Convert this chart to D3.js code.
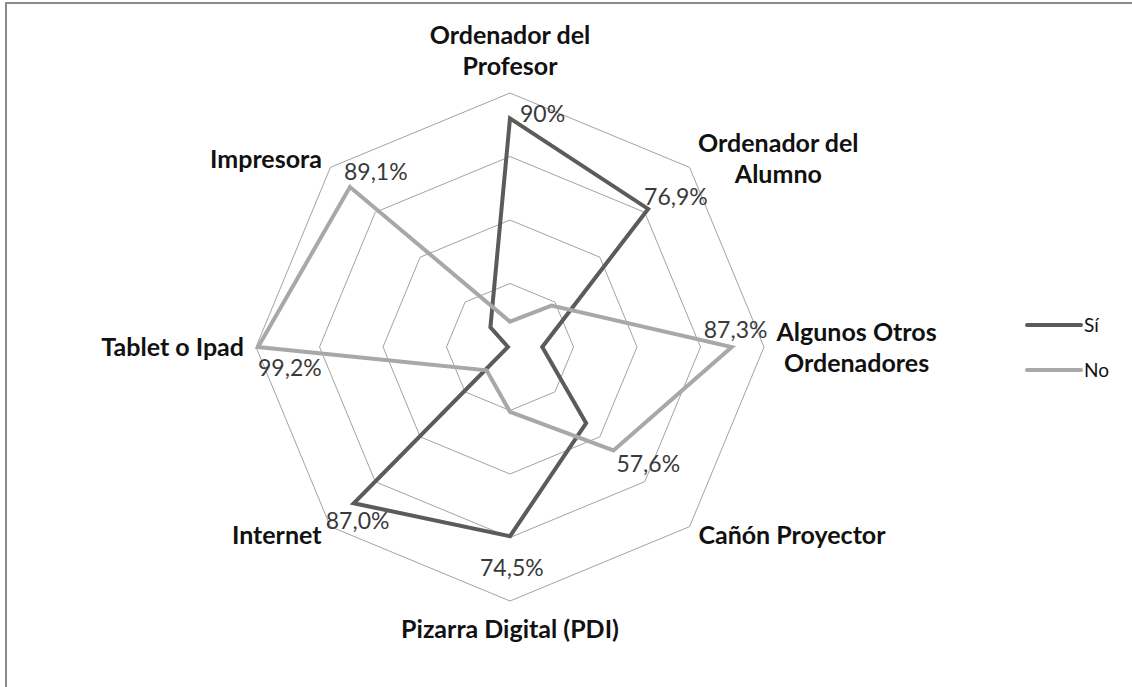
<!DOCTYPE html>
<html>
<head>
<meta charset="utf-8">
<script src="https://cdn.jsdelivr.net/npm/d3@7"></script>
<style>
  body { margin: 0; background: #fff; }
  svg { display: block; font-family: Lato, "Open Sans", sans-serif; }
</style>
</head>
<body>
<script>
// Chart data
var categories = [
  ["Ordenador del", "Profesor"],
  ["Ordenador del", "Alumno"],
  ["Algunos Otros", "Ordenadores"],
  ["Cañón Proyector"],
  ["Pizarra Digital (PDI)"],
  ["Internet"],
  ["Tablet o Ipad"],
  ["Impresora"]
];
var seriesNames = ["Sí", "No"];
var siValues = [90, 76.9, 12.7, 42.4, 74.5, 87.0, 0.8, 10.9];
var noValues = [10, 23.1, 87.3, 57.6, 25.5, 13.0, 99.2, 89.1];
// which series carries the data label on each axis, and its text
var labelSeries = [0, 0, 1, 1, 0, 0, 1, 1];
var labelTexts = ["90%", "76,9%", "87,3%", "57,6%", "74,5%", "87,0%", "99,2%", "89,1%"];
var gridTicks = [25, 50, 75, 100];

// Layout
var svgWidth = 1132;
var svgHeight = 687;
var cx = 510, cy = 347, radius = 254;
var colors = ["#5b5b5b", "#a8a8a8"];

// label nudges (left edge dx, centre dy) relative to the data point
var labelNudge = [[10, -5], [-4, -12], [-28, -17], [3, 13], [-30, 31], [-28, 17], [0, 21], [-6, -15]];

var svg = d3.select("body")
  .append("svg")
  .attr("width", svgWidth)
  .attr("height", svgHeight);

// chart area border (runs off the right and bottom of the picture)
svg.append("rect")
  .attr("x", 6)
  .attr("y", 3)
  .attr("width", svgWidth + 20)
  .attr("height", svgHeight + 20)
  .attr("fill", "none")
  .attr("stroke", "#8a8a8a")
  .attr("stroke-width", 2);

var r = d3.scaleLinear().domain([0, 100]).range([0, radius]);
var angle = d3.scaleLinear().domain([0, categories.length]).range([0, 2 * Math.PI]);

function px(i, v) { return cx + r(v) * Math.sin(angle(i)); }
function py(i, v) { return cy - r(v) * Math.cos(angle(i)); }

var g = svg.append("g");

// octagonal grid
gridTicks.forEach(function(t) {
  var pts = d3.range(categories.length).map(function(i) { return [px(i, t), py(i, t)]; });
  g.append("path")
    .attr("d", d3.line().curve(d3.curveLinearClosed)(pts))
    .attr("fill", "none")
    .attr("stroke", "#a2a2a2")
    .attr("stroke-width", 1);
});

// series lines
var series = [siValues, noValues];
var radial = d3.lineRadial()
  .angle(function(d, i) { return angle(i); })
  .radius(function(d) { return r(d); })
  .curve(d3.curveLinearClosed);

g.selectAll(".series")
  .data(series)
  .enter()
  .append("path")
  .attr("class", "series")
  .attr("transform", "translate(" + cx + "," + cy + ")")
  .attr("d", radial)
  .attr("fill", "none")
  .attr("stroke", function(d, i) { return colors[i]; })
  .attr("stroke-width", 4)
  .attr("stroke-linejoin", "miter");

// data labels
g.selectAll(".vlabel")
  .data(labelTexts)
  .enter()
  .append("text")
  .attr("class", "vlabel")
  .attr("x", function(d, i) { return px(i, series[labelSeries[i]][i]) + labelNudge[i][0]; })
  .attr("y", function(d, i) { return py(i, series[labelSeries[i]][i]) + labelNudge[i][1]; })
  .attr("dy", "0.36em")
  .attr("font-size", 23)
  .attr("fill", "#3a3a3a")
  .text(function(d) { return d; });

// category labels
var lineH = 31;
categories.forEach(function(lines, i) {
  var ax = px(i, 100 * (radius + 12) / radius);
  var ay = py(i, 100 * (radius + 12) / radius);
  var s = Math.sin(angle(i)), c = Math.cos(angle(i));
  var h = lines.length * lineH;
  var centerY = ay;
  if (Math.abs(s) < 0.1) centerY = c > 0 ? ay - h / 2 : ay + h / 2;

  var t = g.append("text")
    .attr("font-size", 25)
    .attr("font-weight", "bold")
    .attr("fill", "#111")
    .attr("text-anchor", "middle");
  lines.forEach(function(l, k) {
    t.append("tspan")
      .attr("x", 0)
      .attr("y", (k - (lines.length - 1) / 2) * lineH)
      .attr("dy", "0.36em")
      .text(l);
  });
  var w = t.node().getBBox().width;
  var x = ax;
  if (s > 0.1) x = ax + w / 2;
  if (s < -0.1) x = ax - w / 2;
  t.attr("transform", "translate(" + x + "," + centerY + ")");
});

// legend
var legend = svg.append("g")
  .attr("transform", "translate(1027, 325)");

legend.selectAll("line")
  .data(seriesNames)
  .enter()
  .append("line")
  .attr("x1", 0)
  .attr("x2", 54)
  .attr("y1", function(d, i) { return i * 45; })
  .attr("y2", function(d, i) { return i * 45; })
  .attr("stroke", function(d, i) { return colors[i]; })
  .attr("stroke-width", 4)
  .attr("stroke-linecap", "round");

legend.selectAll("text")
  .data(seriesNames)
  .enter()
  .append("text")
  .attr("x", 57)
  .attr("y", function(d, i) { return i * 45; })
  .attr("dy", "0.36em")
  .attr("font-size", 19)
  .attr("fill", "#111")
  .text(function(d) { return d; });
</script>
</body>
</html>
